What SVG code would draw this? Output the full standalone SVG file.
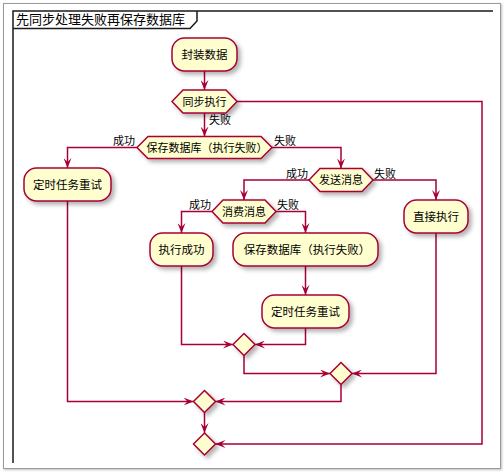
<svg xmlns="http://www.w3.org/2000/svg" width="504" height="476" viewBox="0 0 504 476">
<defs>
<filter id="sh" x="-20%" y="-20%" width="150%" height="160%">
<feDropShadow dx="3" dy="3" stdDeviation="2" flood-color="#000" flood-opacity="0.3"/>
</filter>
<filter id="bsh" x="-5%" y="-5%" width="110%" height="110%">
<feDropShadow dx="1" dy="1" stdDeviation="1" flood-color="#000" flood-opacity="0.25"/>
</filter>
<marker id="ar" viewBox="0 0 10 8" refX="10" refY="4" markerWidth="10" markerHeight="8" markerUnits="userSpaceOnUse" orient="auto">
<path d="M0,0 L10,4 L0,8 L4,4 Z" fill="#A80036"/>
</marker>
<style>
.n{fill:#FEFECE;stroke:#A80036;stroke-width:1.5;filter:url(#sh)}
.t{font-family:"Noto Sans CJK SC","Liberation Sans",sans-serif;font-size:11.5px;fill:#000;text-anchor:middle}
.h{font-family:"Noto Sans CJK SC","Liberation Sans",sans-serif;font-size:11px;fill:#000;text-anchor:middle}
.l{font-family:"Noto Sans CJK SC","Liberation Sans",sans-serif;font-size:11px;fill:#000}
.e{fill:none;stroke:#A80036;stroke-width:1.5;marker-end:url(#ar)}
</style>
</defs>
<rect x="0" y="0" width="504" height="476" fill="#fff"/>
<rect x="3.5" y="3.5" width="497" height="465" fill="#fff" stroke="#9a9a9a" stroke-width="1" filter="url(#bsh)"/>
<g id="frame">
<path d="M13,463 L13,11 L493,11" fill="none" stroke="#1a1a1a" stroke-width="1.5"/>
<path d="M13,28.5 L190,28.5 L197,21 L197,11" fill="none" stroke="#1a1a1a" stroke-width="1.5"/>
<text x="16" y="24" style="font-family:'Noto Sans CJK SC','Liberation Sans',sans-serif;font-size:13px;fill:#000">先同步处理失败再保存数据库</text>
</g>
<g id="connectors">
<path class="e" d="M204.5,71 L204.5,90"/>
<path class="e" d="M204.5,113 L204.5,136.5"/>
<path class="e" d="M137,147.5 L67.5,147.5 L67.5,168"/>
<path class="e" d="M272,147.5 L341,147.5 L341,168.5"/>
<path class="e" d="M309,180 L244,180 L244,200"/>
<path class="e" d="M373,180 L436,180 L436,200"/>
<path class="e" d="M212,211.5 L181.5,211.5 L181.5,233"/>
<path class="e" d="M276,211.5 L305.5,211.5 L305.5,233"/>
<path class="e" d="M305.5,266 L305.5,295"/>
<path class="e" d="M181.5,266 L181.5,344.5 L233,344.5"/>
<path class="e" d="M305.5,328 L305.5,344.5 L255,344.5"/>
<path class="e" d="M244,355.5 L244,373.5 L330,373.5"/>
<path class="e" d="M436,233 L436,373.5 L352,373.5"/>
<path class="e" d="M341,384.5 L341,401.5 L215.5,401.5"/>
<path class="e" d="M67.5,201 L67.5,401.5 L193.5,401.5"/>
<path class="e" d="M204.5,412.5 L204.5,433"/>
<path class="e" d="M237,101.5 L482,101.5 L482,444 L215.5,444"/>
<text class="l" x="209" y="124">失败</text>
<text class="l" x="135" y="145" text-anchor="end">成功</text>
<text class="l" x="274" y="145">失败</text>
<text class="l" x="308" y="178" text-anchor="end">成功</text>
<text class="l" x="374" y="178">失败</text>
<text class="l" x="211" y="209" text-anchor="end">成功</text>
<text class="l" x="277" y="209">失败</text>
</g>
<g id="n1"><rect class="n" x="172" y="38" width="65" height="33" rx="12.5"/><text class="t" x="204.5" y="59">封装数据</text></g>
<g id="d1"><polygon class="n" points="172,101.5 183,90 226,90 237,101.5 226,113 183,113"/><text class="h" x="204.5" y="105.5">同步执行</text></g>
<g id="d2"><polygon class="n" points="137,147.5 148,136.5 261,136.5 272,147.5 261,158.5 148,158.5"/><text class="h" x="207" y="151.5">保存数据库（执行失败）</text></g>
<g id="n2"><rect class="n" x="24" y="168" width="87" height="33" rx="12.5"/><text class="t" x="67.5" y="189">定时任务重试</text></g>
<g id="d3"><polygon class="n" points="309,180 320,168.5 362,168.5 373,180 362,191.5 320,191.5"/><text class="h" x="341" y="184">发送消息</text></g>
<g id="n3"><rect class="n" x="404" y="200" width="64" height="33" rx="12.5"/><text class="t" x="436" y="221">直接执行</text></g>
<g id="d4"><polygon class="n" points="212,211.5 223,200 265,200 276,211.5 265,223 223,223"/><text class="h" x="244" y="215.5">消费消息</text></g>
<g id="n4"><rect class="n" x="150" y="233" width="63" height="33" rx="12.5"/><text class="t" x="181.5" y="254">执行成功</text></g>
<g id="n5"><rect class="n" x="233" y="233" width="145" height="33" rx="12.5"/><text class="t" x="307" y="254">保存数据库（执行失败）</text></g>
<g id="n6"><rect class="n" x="262" y="295" width="87" height="33" rx="12.5"/><text class="t" x="305.5" y="316">定时任务重试</text></g>
<g id="m1"><polygon class="n" points="244,333.5 255,344.5 244,355.5 233,344.5"/></g>
<g id="m2"><polygon class="n" points="341,362.5 352,373.5 341,384.5 330,373.5"/></g>
<g id="m3"><polygon class="n" points="204.5,390.5 215.5,401.5 204.5,412.5 193.5,401.5"/></g>
<g id="m4"><polygon class="n" points="204.5,433 215.5,444 204.5,455 193.5,444"/></g>
</svg>
